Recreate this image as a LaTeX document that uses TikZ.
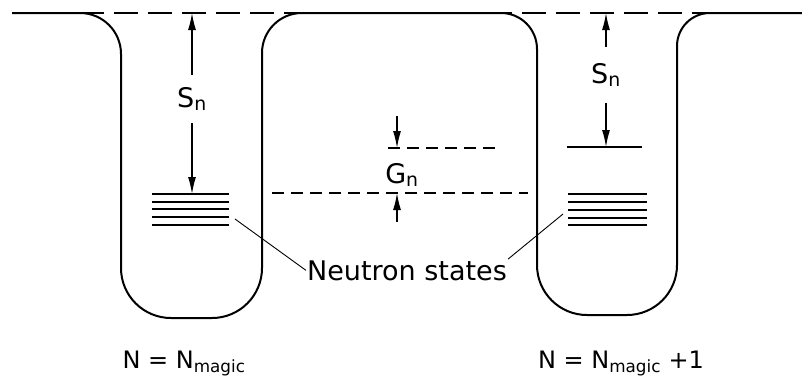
\documentclass[tikz,border=0pt]{standalone}
\usepackage{fontspec}
\setmainfont{DejaVu Sans}
\usetikzlibrary{arrows.meta}

\begin{document}
\begin{tikzpicture}[x=1pt, y=-1pt,
  wall/.style={line width=2pt},
  rim/.style={line width=1.8pt, dash pattern=on 24pt off 10pt},
  level/.style={line width=1.6pt},
  gapline/.style={line width=1.3pt, dash pattern=on 12pt off 7pt},
  arr/.style={line width=1.3pt, -{Latex[length=17pt,width=8pt]}},
  lead/.style={line width=0.9pt},
  lbl/.style={font=\fontsize{27}{30}\selectfont, inner sep=1pt, anchor=base},
  sublbl/.style={font=\fontsize{24}{28}\selectfont, inner sep=1pt, anchor=base},
]
\useasboundingbox (0,0) rectangle (802,383);

%%% potential: two wells and the bump between them
\draw[wall] (12,13) [rounded corners=41pt] -- (121,13)
   [rounded corners=50pt] -- (121,318) -- (262,318)
   [rounded corners=40pt] -- (262,13) [rounded corners=36pt] -- (537,13)
   [rounded corners=50pt] -- (537,315) -- (677,315)
   [rounded corners=33pt] -- (677,13) -- (802,13);
\draw[rim] (12,13) -- (802,13);

%%% left well
\node[lbl, inner sep=12pt] (sn1) at (192,107) {S\textsubscript{n}};
\coordinate (rim1) at (sn1.north |- 0,13);
\coordinate (lev1) at (sn1.south |- 0,194);
\draw[arr] (sn1.north) -- (rim1);
\draw[arr] (sn1.south) -- (lev1);
\foreach \y in {194,202,209,217,225}
  \draw[level] (152,\y) -- (229,\y);

%%% right well
\node[lbl, inner sep=16pt] (sn2) at (606,83) {S\textsubscript{n}};
\coordinate (rim2) at (sn2.north |- 0,13);
\coordinate (lev2) at (sn2.south |- 0,147);
\draw[arr] (sn2.north) -- (rim2);
\draw[arr] (sn2.south) -- (lev2);
\draw[level] (567,147) -- (642,147);
\foreach \y in {194,202,210,218,225}
  \draw[level] (568,\y) -- (647,\y);

%%% gap between the two levels
\coordinate (gtop) at (397,116);
\coordinate (gup) at (397,148);
\coordinate (gbot) at (397,222);
\coordinate (glow) at (397,193);
\draw[gapline] (388,148) -- (502,148);
\draw[gapline] (272,193) -- (528,193);
\draw[arr] (gtop) -- (gup);
\draw[arr] (gbot) -- (glow);
\node[lbl] (gn) at (402,183) {G\textsubscript{n}};

%%% labels
\coordinate (st1) at (235,219);
\coordinate (st2) at (563,214);
\node[lbl] (ns) at (407,280) {Neutron states};
\draw[lead] (st1) -- (ns.west);
\draw[lead] (st2) -- (ns.north east);

\node[sublbl] (nm1) at (184,368) {N = N\textsubscript{magic}};
\node[sublbl] (nm2) at (621,368) {N = N\textsubscript{magic} +1};

\end{tikzpicture}
\end{document}
